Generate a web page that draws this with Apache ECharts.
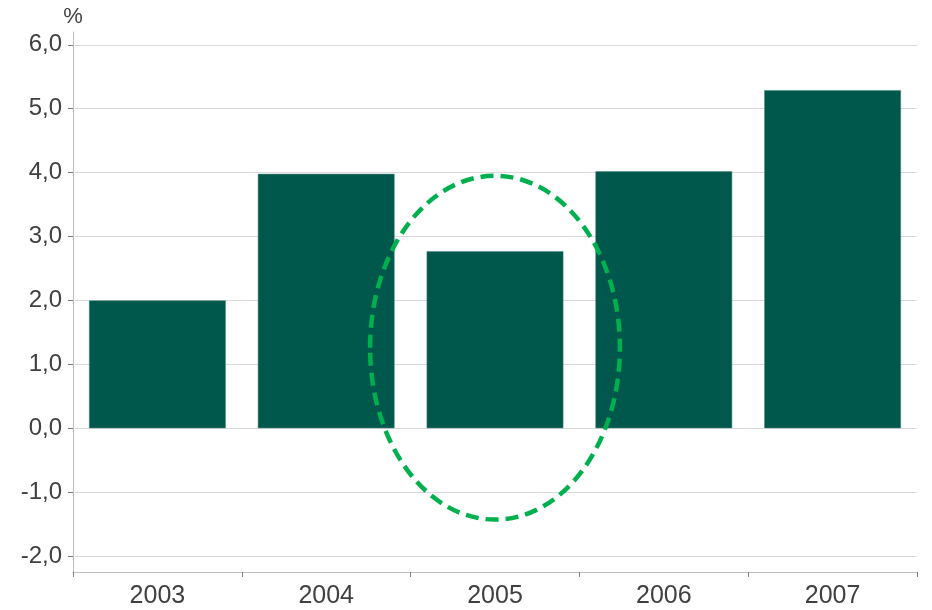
<!DOCTYPE html>
<html><head><meta charset="utf-8">
<script src="https://cdn.jsdelivr.net/npm/echarts@6/dist/echarts.min.js"></script>
<style>html,body{margin:0;padding:0;background:#fff}#c{width:932px;height:610px}</style>
</head><body><div id="c"></div>
<script>
const categories = ['2003', '2004', '2005', '2006', '2007'];
const growth = [2.0, 3.98, 2.77, 4.02, 5.29];
const yMin = -2.25, yMax = 6.2;
// highlight ellipse around 2005, in data units
const ellipseCategory = '2005';
const ellipseTop = 3.95, ellipseBottom = -1.43, ellipseHalfWidthCats = 0.74;

const chart = echarts.init(document.getElementById('c'));
const fmt = v => v.toFixed(1).replace('.', ',');
const FONT = 'Liberation Sans, Arial, sans-serif';
chart.setOption({
  animation: false,
  grid: { left: 73, right: 15, top: 32, bottom: 38 },
  xAxis: {
    type: 'category', data: categories, position: 'bottom',
    axisLine: { onZero: false, lineStyle: { color: '#bfbfbf', width: 1 } },
    axisTick: { show: true, length: 5, lineStyle: { color: '#7f7f7f' } },
    axisLabel: { color: '#404040', fontSize: 25, fontFamily: FONT, margin: 12 },
    splitLine: { show: false }
  },
  yAxis: {
    type: 'value', min: yMin, max: yMax, splitNumber: 8,
    name: '%', nameLocation: 'end', nameGap: 4,
    nameTextStyle: { color: '#404040', fontSize: 22, fontFamily: FONT, align: 'center' },
    axisLine: { show: true, lineStyle: { color: '#bfbfbf', width: 1 } },
    axisTick: { show: true, length: 5, lineStyle: { color: '#7f7f7f' } },
    axisLabel: { color: '#404040', fontSize: 24, fontFamily: FONT, margin: 11,
      showMinLabel: false, showMaxLabel: false, formatter: fmt },
    splitLine: { show: true, showMinLine: false, showMaxLine: false, lineStyle: { color: '#d9d9d9', width: 1 } }
  },
  series: [{
    type: 'bar', data: growth, barWidth: '81%',
    itemStyle: { color: '#00584C', borderColor: '#4f8a80', borderWidth: 0.5 }
  }]
});

function drawEllipse() {
  const c = chart.convertToPixel({ gridIndex: 0 }, [ellipseCategory, (ellipseTop + ellipseBottom) / 2]);
  const top = chart.convertToPixel({ gridIndex: 0 }, [ellipseCategory, ellipseTop])[1];
  const bot = chart.convertToPixel({ gridIndex: 0 }, [ellipseCategory, ellipseBottom])[1];
  const p0 = chart.convertToPixel({ xAxisIndex: 0 }, categories[0]);
  const p1 = chart.convertToPixel({ xAxisIndex: 0 }, categories[1]);
  const rx = (p1 - p0) * ellipseHalfWidthCats;
  chart.setOption({
    graphic: [{
      type: 'ellipse', shape: { cx: c[0], cy: c[1], rx: rx, ry: (bot - top) / 2 },
      style: { fill: 'none', stroke: '#00B04F', lineWidth: 4.5, lineDash: [13, 7] }, z: 100
    }]
  });
}
drawEllipse();
</script></body></html>
